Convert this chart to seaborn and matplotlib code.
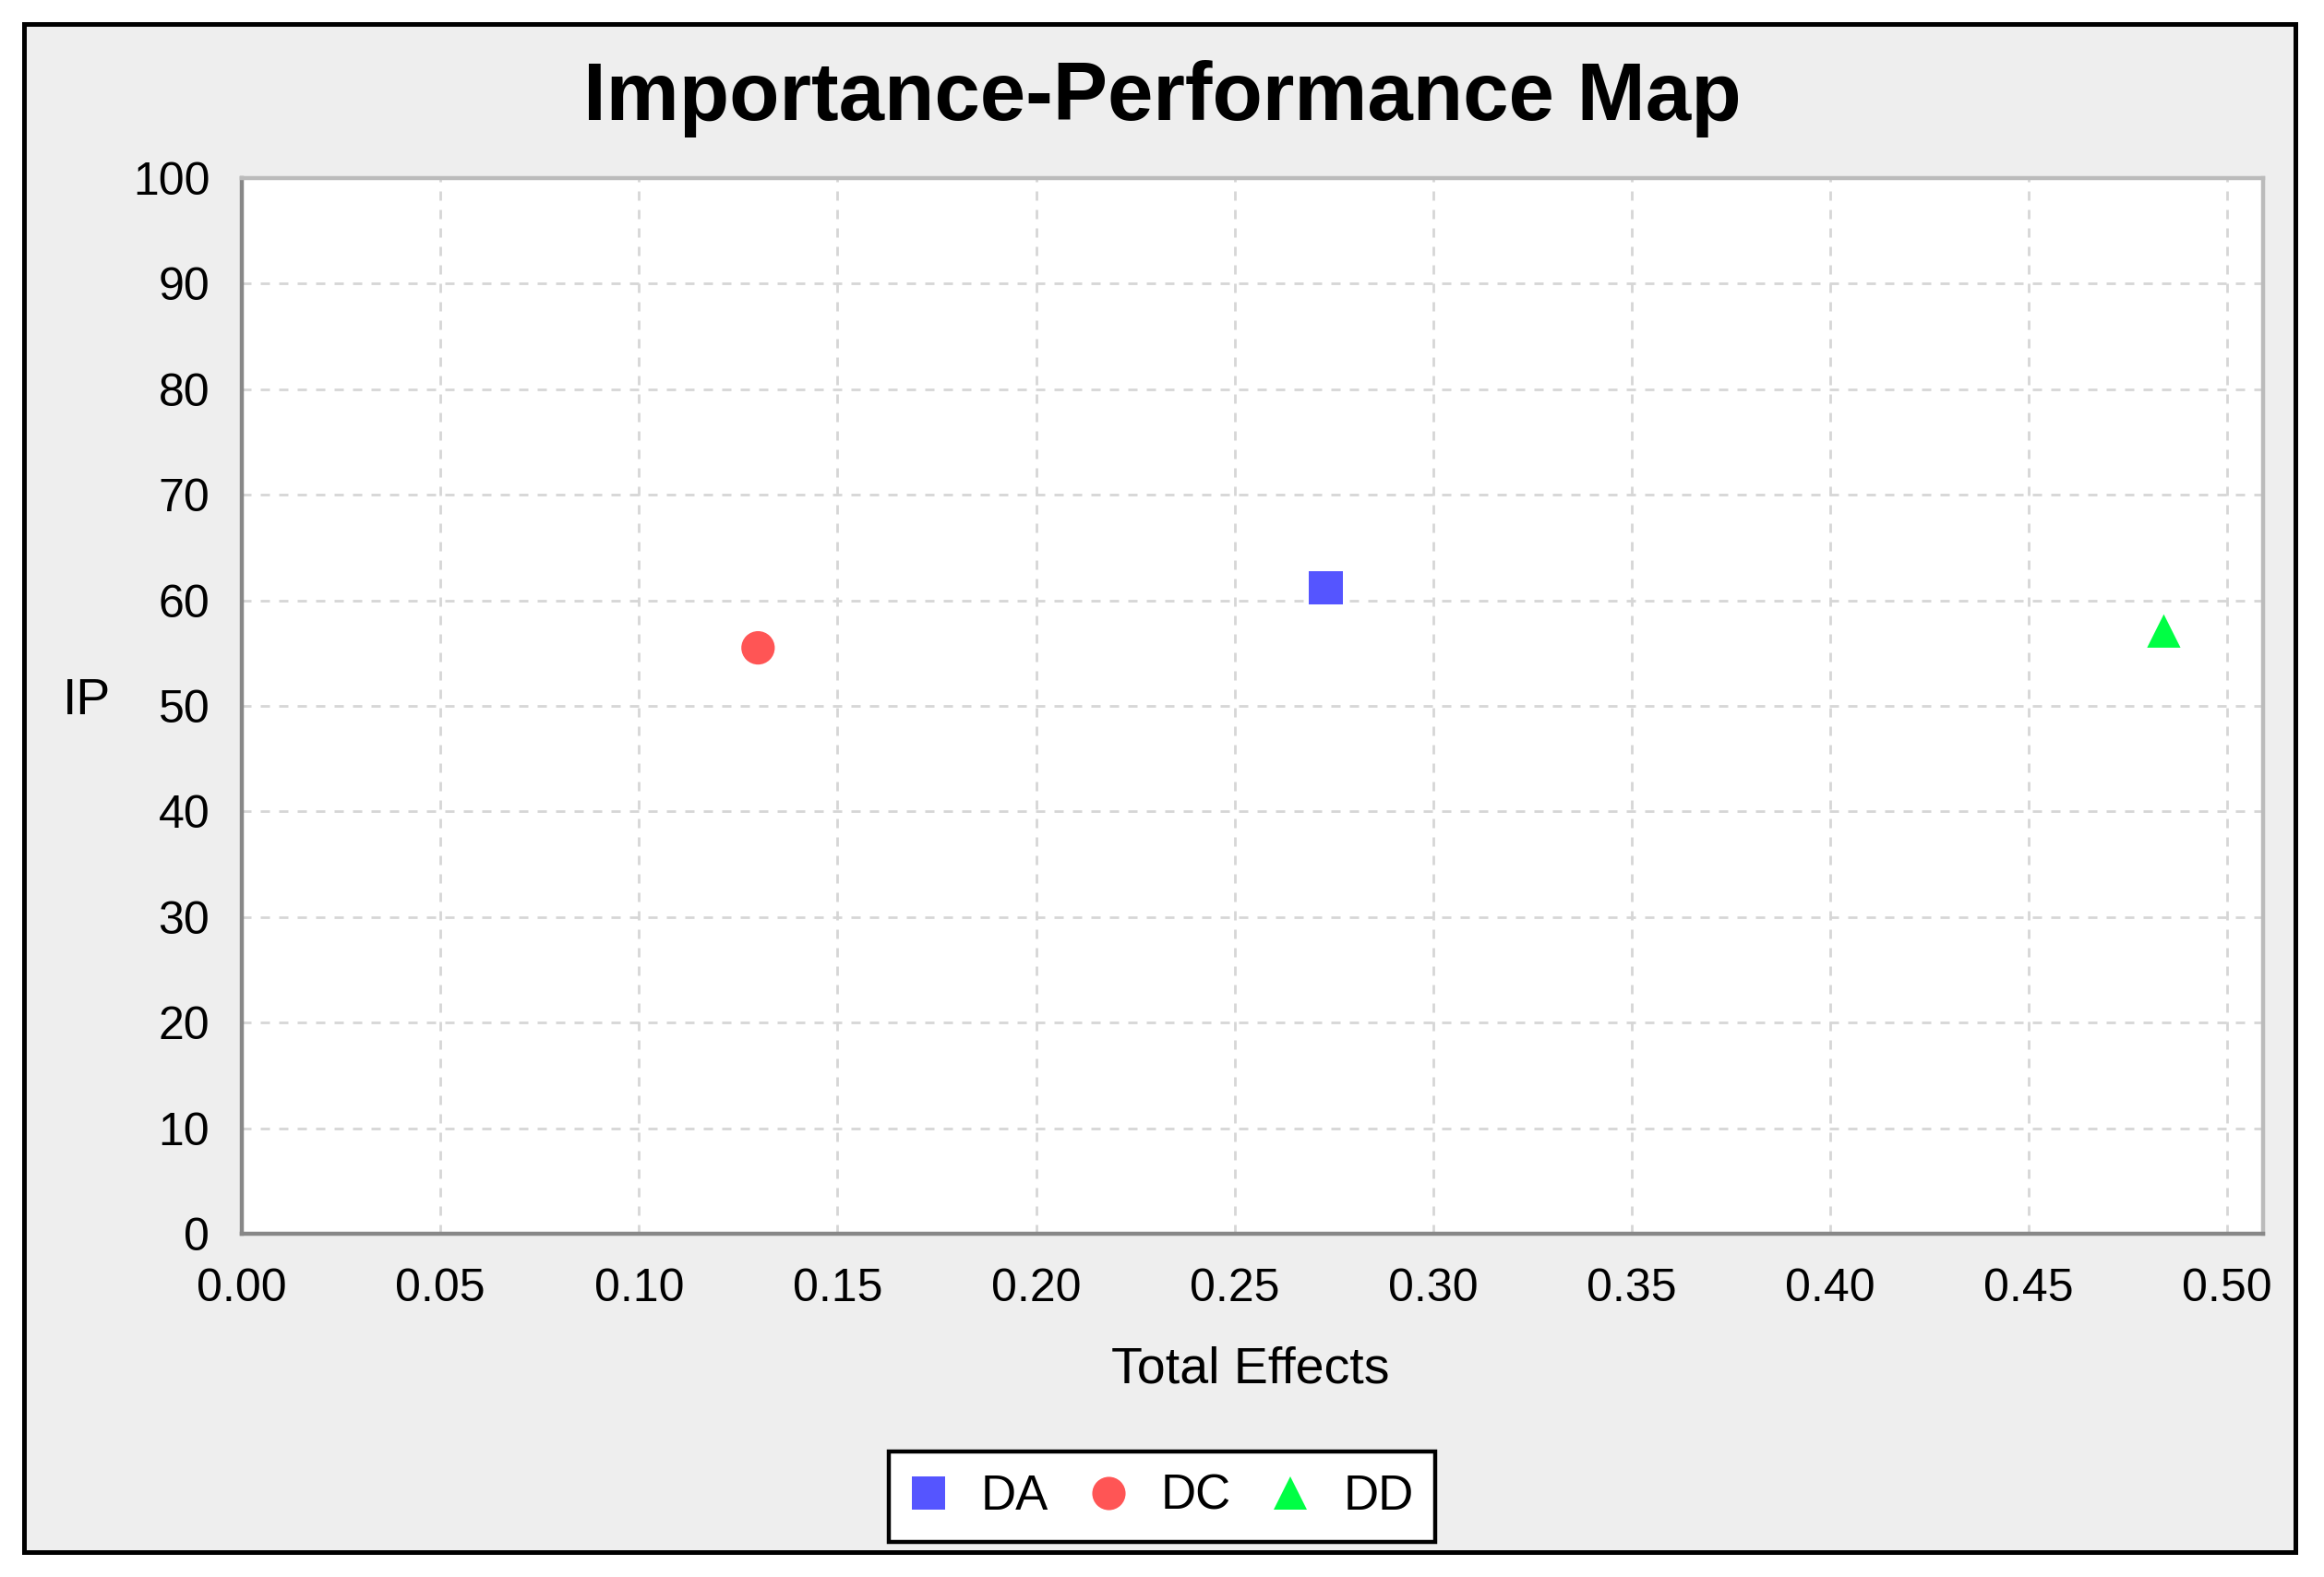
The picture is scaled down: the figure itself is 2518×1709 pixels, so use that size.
import matplotlib
matplotlib.use("Agg")
import matplotlib.pyplot as plt
from matplotlib.patches import Rectangle
import seaborn as sns
import pandas as pd

# --- Data ---
constructs = ['DA', 'DC', 'DD']
total_effects = [0.273, 0.130, 0.484]
performance = [61.2, 55.5, 57.1]

colors = {'DA': '#5555FF', 'DC': '#FF5555', 'DD': '#00FF44'}
markers = {'DA': 's', 'DC': 'o', 'DD': '^'}

df = pd.DataFrame({'construct': constructs, 'total_effects': total_effects, 'ip': performance})

sns.set_style("white")
plt.rcParams['font.family'] = ['Liberation Sans', 'DejaVu Sans']
plt.rcParams['text.color'] = 'black'
plt.rcParams['axes.labelcolor'] = 'black'

fig = plt.figure(figsize=(25.18, 17.09), dpi=100, facecolor='white')

# grey chart panel with black frame
W, H = 2518, 1709
fig.patches.append(Rectangle((25.5 / W, 1 - 1682 / H), (2487 - 25.5) / W, (1682 - 25.5) / H,
                             transform=fig.transFigure, facecolor='#EEEEEE',
                             edgecolor='black', linewidth=3.6, zorder=-10))

ax = fig.add_axes([262 / W, 1 - 1337 / H, 2190 / W, 1144 / H])
ax.set_facecolor('white')

sns.scatterplot(data=df, x='total_effects', y='ip', hue='construct', style='construct',
                palette=colors, markers=markers, s=680, linewidth=0, ax=ax, zorder=3)

ax.set_xlim(0, 0.509)
ax.set_ylim(0, 100)
ax.set_xticks([i * 0.05 for i in range(11)])
ax.set_xticklabels([f"{i * 0.05:.2f}" for i in range(11)])
ax.set_yticks(range(0, 101, 10))

ax.grid(True, color='#D6D6D6', linestyle=(0, (3.6, 3.6)), linewidth=2)
ax.set_axisbelow(True)

for side in ['left', 'bottom']:
    ax.spines[side].set_color('#888888')
    ax.spines[side].set_linewidth(3.2)
for side in ['top', 'right']:
    ax.spines[side].set_color('#BBBBBB')
    ax.spines[side].set_linewidth(3.2)

ax.tick_params(axis='both', direction='out', length=9, width=3, color='#888888',
               labelsize=36, labelcolor='black', pad=16)
ax.tick_params(axis='x', pad=18)

ax.set_xlabel('Total Effects', fontsize=40, color='black')
ax.set_ylabel('IP', fontsize=40, rotation=0, color='black')
ax.xaxis.set_label_coords(0.499, -0.129)
ax.xaxis.label.set_va('center')
ax.yaxis.set_label_coords(-0.0767, 0.504)
ax.yaxis.label.set_va('center')
ax.yaxis.label.set_ha('center')

fig.text(0.5, 1 - 130 / H, 'Importance-Performance Map', ha='center', va='baseline',
         fontsize=64, fontweight='heavy', color='black')

# legend below the plot, boxed
old = ax.get_legend()
handles = old.legend_handles
labels = [t.get_text() for t in old.get_texts()]
old.remove()
for h in handles:
    h.set_markersize(26)
leg = fig.legend(handles, labels, loc='center', bbox_to_anchor=(0.5, 1 - 1622 / H),
                 ncol=3, fontsize=38, frameon=True, fancybox=False, framealpha=1,
                 edgecolor='black', facecolor='white', handlelength=0.75,
                 handletextpad=0.7, columnspacing=0.85, borderpad=0.45, markerscale=1)
leg.get_frame().set_linewidth(3.2)
for t in leg.get_texts():
    t.set_color('black')

fig.savefig('out.png', dpi=100, facecolor='white')
